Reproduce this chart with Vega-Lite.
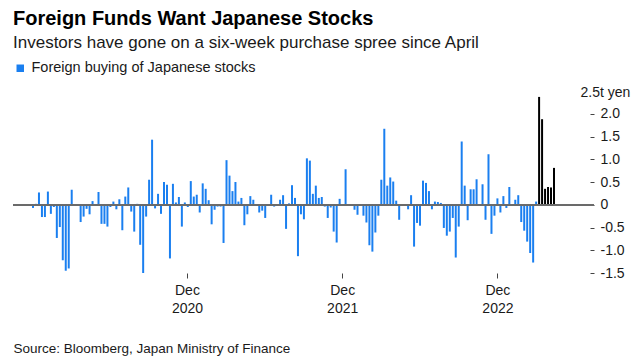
{
  "$schema": "https://vega.github.io/schema/vega-lite/v6.json",
  "autosize": {"type": "none"},
  "padding": {"left": 13, "top": 91, "right": 47, "bottom": 90},
  "width": 581,
  "height": 182,
  "config": {
    "font": "Liberation Sans",
    "view": {"stroke": null},
    "background": "#ffffff"
  },
  "title": {
    "text": "Foreign Funds Want Japanese Stocks",
    "subtitle": "Investors have gone on a six-week purchase spree since April",
    "anchor": "start",
    "frame": "group",
    "font": "Liberation Sans",
    "fontSize": 20,
    "fontWeight": "bold",
    "color": "#000000",
    "subtitleFont": "Liberation Sans",
    "subtitleFontSize": 17,
    "subtitleColor": "#1a1a1a",
    "subtitlePadding": 6,
    "offset": 10
  },
  "data": {
    "values": [
      {"week": "2020-01-04", "v": -0.07, "s": "buy"},
      {"week": "2020-01-11", "v": 0.02, "s": "buy"},
      {"week": "2020-01-18", "v": 0.27, "s": "buy"},
      {"week": "2020-01-25", "v": -0.27, "s": "buy"},
      {"week": "2020-02-01", "v": -0.27, "s": "buy"},
      {"week": "2020-02-08", "v": 0.29, "s": "buy"},
      {"week": "2020-02-15", "v": -0.2, "s": "buy"},
      {"week": "2020-02-22", "v": -0.05, "s": "buy"},
      {"week": "2020-02-29", "v": -0.73, "s": "buy"},
      {"week": "2020-03-07", "v": -0.49, "s": "buy"},
      {"week": "2020-03-14", "v": -1.22, "s": "buy"},
      {"week": "2020-03-21", "v": -1.45, "s": "buy"},
      {"week": "2020-03-28", "v": -1.4, "s": "buy"},
      {"week": "2020-04-04", "v": 0.33, "s": "buy"},
      {"week": "2020-04-11", "v": 0.01, "s": "buy"},
      {"week": "2020-04-18", "v": -0.01, "s": "buy"},
      {"week": "2020-04-25", "v": -0.38, "s": "buy"},
      {"week": "2020-05-02", "v": -0.26, "s": "buy"},
      {"week": "2020-05-09", "v": -0.09, "s": "buy"},
      {"week": "2020-05-16", "v": -0.21, "s": "buy"},
      {"week": "2020-05-23", "v": 0.08, "s": "buy"},
      {"week": "2020-05-30", "v": -0.02, "s": "buy"},
      {"week": "2020-06-06", "v": 0.28, "s": "buy"},
      {"week": "2020-06-13", "v": -0.42, "s": "buy"},
      {"week": "2020-06-20", "v": -0.42, "s": "buy"},
      {"week": "2020-06-27", "v": -0.48, "s": "buy"},
      {"week": "2020-07-04", "v": -0.05, "s": "buy"},
      {"week": "2020-07-11", "v": 0.07, "s": "buy"},
      {"week": "2020-07-18", "v": -0.1, "s": "buy"},
      {"week": "2020-07-25", "v": 0.12, "s": "buy"},
      {"week": "2020-08-01", "v": -0.56, "s": "buy"},
      {"week": "2020-08-08", "v": 0.18, "s": "buy"},
      {"week": "2020-08-15", "v": 0.38, "s": "buy"},
      {"week": "2020-08-22", "v": -0.15, "s": "buy"},
      {"week": "2020-08-29", "v": -0.59, "s": "buy"},
      {"week": "2020-09-05", "v": 0.02, "s": "buy"},
      {"week": "2020-09-12", "v": -0.88, "s": "buy"},
      {"week": "2020-09-19", "v": -1.5, "s": "buy"},
      {"week": "2020-09-26", "v": -0.26, "s": "buy"},
      {"week": "2020-10-03", "v": 0.55, "s": "buy"},
      {"week": "2020-10-10", "v": 1.43, "s": "buy"},
      {"week": "2020-10-17", "v": -0.08, "s": "buy"},
      {"week": "2020-10-24", "v": 0.24, "s": "buy"},
      {"week": "2020-10-31", "v": -0.2, "s": "buy"},
      {"week": "2020-11-07", "v": 0.5, "s": "buy"},
      {"week": "2020-11-14", "v": 0.44, "s": "buy"},
      {"week": "2020-11-21", "v": -1.18, "s": "buy"},
      {"week": "2020-11-28", "v": 0.46, "s": "buy"},
      {"week": "2020-12-05", "v": 0.05, "s": "buy"},
      {"week": "2020-12-12", "v": 0.17, "s": "buy"},
      {"week": "2020-12-19", "v": -0.48, "s": "buy"},
      {"week": "2020-12-26", "v": 0.05, "s": "buy"},
      {"week": "2021-01-02", "v": -0.05, "s": "buy"},
      {"week": "2021-01-09", "v": 0.52, "s": "buy"},
      {"week": "2021-01-16", "v": 0.18, "s": "buy"},
      {"week": "2021-01-23", "v": 0.22, "s": "buy"},
      {"week": "2021-01-30", "v": -0.17, "s": "buy"},
      {"week": "2021-02-06", "v": 0.47, "s": "buy"},
      {"week": "2021-02-13", "v": 0.35, "s": "buy"},
      {"week": "2021-02-20", "v": 0.1, "s": "buy"},
      {"week": "2021-02-27", "v": -0.43, "s": "buy"},
      {"week": "2021-03-06", "v": -0.11, "s": "buy"},
      {"week": "2021-03-13", "v": -0.04, "s": "buy"},
      {"week": "2021-03-20", "v": -0.04, "s": "buy"},
      {"week": "2021-03-27", "v": -0.84, "s": "buy"},
      {"week": "2021-04-03", "v": 0.98, "s": "buy"},
      {"week": "2021-04-10", "v": 0.64, "s": "buy"},
      {"week": "2021-04-17", "v": 0.3, "s": "buy"},
      {"week": "2021-04-24", "v": 0.5, "s": "buy"},
      {"week": "2021-05-01", "v": 0.07, "s": "buy"},
      {"week": "2021-05-08", "v": 0.15, "s": "buy"},
      {"week": "2021-05-15", "v": -0.45, "s": "buy"},
      {"week": "2021-05-22", "v": -0.21, "s": "buy"},
      {"week": "2021-05-29", "v": 0.19, "s": "buy"},
      {"week": "2021-06-05", "v": 0.11, "s": "buy"},
      {"week": "2021-06-12", "v": -0.02, "s": "buy"},
      {"week": "2021-06-19", "v": -0.17, "s": "buy"},
      {"week": "2021-06-26", "v": -0.13, "s": "buy"},
      {"week": "2021-07-03", "v": -0.29, "s": "buy"},
      {"week": "2021-07-10", "v": -0.01, "s": "buy"},
      {"week": "2021-07-17", "v": 0.22, "s": "buy"},
      {"week": "2021-07-24", "v": -0.04, "s": "buy"},
      {"week": "2021-07-31", "v": 0.01, "s": "buy"},
      {"week": "2021-08-07", "v": 0.11, "s": "buy"},
      {"week": "2021-08-14", "v": 0.21, "s": "buy"},
      {"week": "2021-08-21", "v": -0.53, "s": "buy"},
      {"week": "2021-08-28", "v": 0.03, "s": "buy"},
      {"week": "2021-09-04", "v": 0.43, "s": "buy"},
      {"week": "2021-09-11", "v": 0.15, "s": "buy"},
      {"week": "2021-09-18", "v": -1.13, "s": "buy"},
      {"week": "2021-09-25", "v": -0.21, "s": "buy"},
      {"week": "2021-10-02", "v": -0.32, "s": "buy"},
      {"week": "2021-10-09", "v": 1.02, "s": "buy"},
      {"week": "2021-10-16", "v": 0.97, "s": "buy"},
      {"week": "2021-10-23", "v": 0.24, "s": "buy"},
      {"week": "2021-10-30", "v": 0.42, "s": "buy"},
      {"week": "2021-11-06", "v": 0.15, "s": "buy"},
      {"week": "2021-11-13", "v": 0.17, "s": "buy"},
      {"week": "2021-11-20", "v": -0.04, "s": "buy"},
      {"week": "2021-11-27", "v": -0.29, "s": "buy"},
      {"week": "2021-12-04", "v": -0.06, "s": "buy"},
      {"week": "2021-12-11", "v": -0.59, "s": "buy"},
      {"week": "2021-12-18", "v": -0.83, "s": "buy"},
      {"week": "2021-12-25", "v": 0.13, "s": "buy"},
      {"week": "2022-01-01", "v": 0.01, "s": "buy"},
      {"week": "2022-01-08", "v": 0.78, "s": "buy"},
      {"week": "2022-01-15", "v": -0.01, "s": "buy"},
      {"week": "2022-01-22", "v": 0.01, "s": "buy"},
      {"week": "2022-01-29", "v": -0.11, "s": "buy"},
      {"week": "2022-02-05", "v": -0.22, "s": "buy"},
      {"week": "2022-02-12", "v": -0.02, "s": "buy"},
      {"week": "2022-02-19", "v": -0.24, "s": "buy"},
      {"week": "2022-02-26", "v": -0.39, "s": "buy"},
      {"week": "2022-03-05", "v": -0.89, "s": "buy"},
      {"week": "2022-03-12", "v": -1.03, "s": "buy"},
      {"week": "2022-03-19", "v": -0.61, "s": "buy"},
      {"week": "2022-03-26", "v": -0.24, "s": "buy"},
      {"week": "2022-04-02", "v": 0.55, "s": "buy"},
      {"week": "2022-04-09", "v": 1.67, "s": "buy"},
      {"week": "2022-04-16", "v": 0.42, "s": "buy"},
      {"week": "2022-04-23", "v": 0.6, "s": "buy"},
      {"week": "2022-04-30", "v": 0.51, "s": "buy"},
      {"week": "2022-05-07", "v": 0.09, "s": "buy"},
      {"week": "2022-05-14", "v": -0.33, "s": "buy"},
      {"week": "2022-05-21", "v": 0.01, "s": "buy"},
      {"week": "2022-05-28", "v": -0.01, "s": "buy"},
      {"week": "2022-06-04", "v": -0.1, "s": "buy"},
      {"week": "2022-06-11", "v": 0.21, "s": "buy"},
      {"week": "2022-06-18", "v": -0.92, "s": "buy"},
      {"week": "2022-06-25", "v": -0.4, "s": "buy"},
      {"week": "2022-07-02", "v": -0.46, "s": "buy"},
      {"week": "2022-07-09", "v": 0.53, "s": "buy"},
      {"week": "2022-07-16", "v": 0.48, "s": "buy"},
      {"week": "2022-07-23", "v": 0.3, "s": "buy"},
      {"week": "2022-07-30", "v": -0.1, "s": "buy"},
      {"week": "2022-08-06", "v": 0.07, "s": "buy"},
      {"week": "2022-08-13", "v": 0.06, "s": "buy"},
      {"week": "2022-08-20", "v": 0.04, "s": "buy"},
      {"week": "2022-08-27", "v": -0.51, "s": "buy"},
      {"week": "2022-09-03", "v": -0.68, "s": "buy"},
      {"week": "2022-09-10", "v": -0.59, "s": "buy"},
      {"week": "2022-09-17", "v": -0.29, "s": "buy"},
      {"week": "2022-09-24", "v": -1.16, "s": "buy"},
      {"week": "2022-10-01", "v": -0.48, "s": "buy"},
      {"week": "2022-10-08", "v": 1.39, "s": "buy"},
      {"week": "2022-10-15", "v": 0.42, "s": "buy"},
      {"week": "2022-10-22", "v": -0.34, "s": "buy"},
      {"week": "2022-10-29", "v": 0.34, "s": "buy"},
      {"week": "2022-11-05", "v": 0.34, "s": "buy"},
      {"week": "2022-11-12", "v": 0.56, "s": "buy"},
      {"week": "2022-11-19", "v": 0.01, "s": "buy"},
      {"week": "2022-11-26", "v": 0.45, "s": "buy"},
      {"week": "2022-12-03", "v": -0.33, "s": "buy"},
      {"week": "2022-12-10", "v": 1.11, "s": "buy"},
      {"week": "2022-12-17", "v": -0.64, "s": "buy"},
      {"week": "2022-12-24", "v": -0.24, "s": "buy"},
      {"week": "2022-12-31", "v": 0.14, "s": "buy"},
      {"week": "2023-01-07", "v": -0.17, "s": "buy"},
      {"week": "2023-01-14", "v": 0.19, "s": "buy"},
      {"week": "2023-01-21", "v": -0.07, "s": "buy"},
      {"week": "2023-01-28", "v": 0.39, "s": "buy"},
      {"week": "2023-02-04", "v": 0.01, "s": "buy"},
      {"week": "2023-02-11", "v": 0.11, "s": "buy"},
      {"week": "2023-02-18", "v": 0.21, "s": "buy"},
      {"week": "2023-02-25", "v": -0.38, "s": "buy"},
      {"week": "2023-03-04", "v": -0.57, "s": "buy"},
      {"week": "2023-03-11", "v": -0.81, "s": "buy"},
      {"week": "2023-03-18", "v": -1.06, "s": "buy"},
      {"week": "2023-03-25", "v": -1.27, "s": "buy"},
      {"week": "2023-04-01", "v": 0.07, "s": "buy"},
      {"week": "2023-04-08", "v": 2.37, "s": "spree"},
      {"week": "2023-04-15", "v": 1.88, "s": "spree"},
      {"week": "2023-04-22", "v": 0.35, "s": "spree"},
      {"week": "2023-04-29", "v": 0.39, "s": "spree"},
      {"week": "2023-05-06", "v": 0.38, "s": "spree"},
      {"week": "2023-05-13", "v": 0.81, "s": "spree"}
    ]
  },
  "layer": [
    {
      "mark": {"type": "bar", "width": 2},
      "encoding": {
        "x": {
          "field": "week",
          "type": "temporal",
          "scale": {
            "domain": [
              {"year": 2019, "month": 11, "date": 29, "hours": 17},
              {"year": 2023, "month": 8, "date": 3, "hours": 8}
            ]
          },
          "axis": {
            "values": [
              {"year": 2020, "month": 12, "date": 31},
              {"year": 2021, "month": 12, "date": 31},
              {"year": 2022, "month": 12, "date": 31}
            ],
            "tickCount": 50,
            "labelExpr": "[timeFormat(datum.value, '%b'), timeFormat(datum.value, '%Y')]",
            "domain": false,
            "grid": false,
            "tickSize": 5,
            "tickColor": "#444444",
            "labelFontSize": 14,
            "labelColor": "#1a1a1a",
            "labelLineHeight": 18,
            "labelPadding": 5,
            "labelFlush": false,
            "labelOverlap": false,
            "title": "Source: Bloomberg, Japan Ministry of Finance",
            "titleAnchor": "start",
            "titleAlign": "left",
            "titleFontWeight": "normal",
            "titleFontSize": 13.5,
            "titleColor": "#1a1a1a",
            "titlePadding": 26
          }
        },
        "y": {
          "field": "v",
          "type": "quantitative",
          "scale": {"domain": [-1.5, 2.5], "nice": false, "zero": false},
          "axis": {
            "orient": "right",
            "values": [-1.5, -1.0, -0.5, 0.0, 0.5, 1.0, 1.5, 2.0],
            "tickCount": 50,
            "labelExpr": "datum.value == 0 ? '0' : replace(format(datum.value, '.1f'), '−', '-')",
            "labelOverlap": false,
            "labelBound": false,
            "domain": false,
            "grid": false,
            "offset": -4,
            "tickSize": 4,
            "tickColor": "#444444",
            "labelAlign": "left",
            "labelPadding": 6,
            "labelFontSize": 14,
            "labelColor": "#1a1a1a",
            "title": "2.5t yen",
            "titleAngle": 0,
            "titleX": -10,
            "titleY": 1,
            "titleAlign": "left",
            "titleBaseline": "middle",
            "titleFontWeight": "normal",
            "titleFontSize": 14,
            "titleColor": "#1a1a1a"
          }
        },
        "color": {
          "field": "s",
          "type": "nominal",
          "scale": {"domain": ["buy", "spree"], "range": ["#1a7ff0", "#000000"]},
          "legend": {
            "orient": "none",
            "legendX": 0,
            "legendY": -30,
            "title": null,
            "values": ["buy"],
            "labelExpr": "'Foreign buying of Japanese stocks'",
            "labelLimit": 0,
            "symbolType": "square",
            "symbolSize": 56,
            "symbolStrokeWidth": 0,
            "labelFontSize": 14.5,
            "labelColor": "#1a1a1a",
            "labelOffset": 4,
            "padding": 0
          }
        }
      }
    },
    {
      "mark": {"type": "rule", "color": "#6b6b6b", "strokeWidth": 1.3},
      "encoding": {"y": {"datum": 0}}
    }
  ]
}
